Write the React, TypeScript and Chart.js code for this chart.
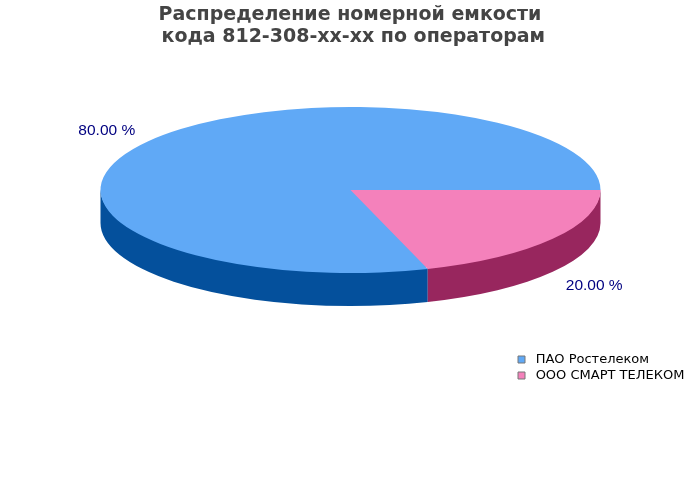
import React, { useEffect, useRef } from 'react';
import { Chart, registerables } from 'chart.js';

Chart.register(...registerables);

const operators = ['ПАО Ростелеком', 'ООО СМАРТ ТЕЛЕКОМ'];
const shares = [80, 20];
const topColors = ['#60A9F6', '#F481BB'];
const wallColors = ['#04509C', '#98265E'];
const titleLines = [
    'Распределение номерной емкости',
    '\u00A0кода 812-308-хх-хх по операторам',
];

// геометрия "3D" эллипса на канвасе
const CENTER_X = 350.5;
const CENTER_Y = 190;
const RADIUS_X = 250;
const RADIUS_Y = 83;
const DEPTH = 33;
const LABEL_FACTOR_X = 1.205;
const LABEL_FACTOR_Y = 1.22;
const LABEL_DROP = 36;

const pie3d = {
    id: 'pie3d',
    beforeDatasetsDraw(chart: any) {
        const { ctx } = chart;
        const arcs = chart.getDatasetMeta(0).data;
        const first = arcs[0];
        const sx = RADIUS_X / first.outerRadius;
        const sy = RADIUS_Y / first.outerRadius;

        // боковая стенка: только передняя половина каждого сектора
        arcs.forEach((arc: any, i: number) => {
            const full = Math.PI * 2;
            const shift = arc.startAngle >= full ? full : 0;
            const from = Math.max(arc.startAngle - shift, 0);
            const to = Math.min(arc.endAngle - shift, Math.PI);
            if (to <= from) return;
            ctx.beginPath();
            ctx.ellipse(CENTER_X, CENTER_Y - 1, RADIUS_X, RADIUS_Y, 0, from, to);
            ctx.ellipse(CENTER_X, CENTER_Y + DEPTH, RADIUS_X, RADIUS_Y, 0, to, from, true);
            ctx.closePath();
            ctx.fillStyle = wallColors[i];
            ctx.fill();
        });

        // подложка, чтобы не было светлого шва между секторами
        ctx.beginPath();
        ctx.ellipse(CENTER_X, CENTER_Y, RADIUS_X - 2, RADIUS_Y - 2, 0, 0, Math.PI * 2);
        ctx.fillStyle = topColors[0];
        ctx.fill();

        // верх рисует сама библиотека, в сжатых координатах
        ctx.save();
        ctx.translate(CENTER_X, CENTER_Y);
        ctx.scale(sx, sy);
        ctx.translate(-first.x, -first.y);
    },
    afterDatasetsDraw(chart: any) {
        const { ctx } = chart;
        ctx.restore();

        const arcs = chart.getDatasetMeta(0).data;
        ctx.save();
        ctx.font = '15.5px "Liberation Sans"';
        ctx.fillStyle = '#000080';
        ctx.textAlign = 'center';
        ctx.textBaseline = 'middle';
        arcs.forEach((arc: any, i: number) => {
            const mid = (arc.startAngle + arc.endAngle) / 2;
            const sin = Math.sin(mid);
            const x = CENTER_X + Math.cos(mid) * RADIUS_X * LABEL_FACTOR_X;
            const y = CENTER_Y + sin * RADIUS_Y * LABEL_FACTOR_Y + (sin > 0 ? LABEL_DROP : 0);
            ctx.fillText(`${shares[i].toFixed(2)} %`, x, y);
        });
        ctx.restore();
    },
};

const legendPlacement = {
    id: 'legendPlacement',
    afterLayout(chart: any) {
        const legend = chart.legend;
        const dx = 515 - legend.left;
        const dy = 350 - legend.top;
        legend.left += dx;
        legend.right += dx;
        legend.top += dy;
        legend.bottom += dy;
    },
};

const App: React.FC = () => {
    const chartRef = useRef<HTMLCanvasElement | null>(null);

    useEffect(() => {
        document.body.style.margin = '0';
        if (!chartRef.current) return;
        const chart = new Chart(chartRef.current, {
            type: 'pie',
            data: {
                labels: operators,
                datasets: [{
                    data: shares,
                    backgroundColor: topColors,
                    borderWidth: 0,
                    clip: false,
                } as any],
            },
            options: {
                responsive: false,
                animation: false,
                rotation: 162,
                events: [],
                plugins: {
                    tooltip: { enabled: false },
                    title: {
                        display: true,
                        text: titleLines,
                        color: '#444444',
                        font: { family: '"DejaVu Sans"', size: 19, weight: 'bold', lineHeight: 1.16 },
                        padding: { top: 4, bottom: 10 },
                    },
                    legend: {
                        position: 'right',
                        align: 'start',
                        labels: {
                            boxWidth: 7,
                            boxHeight: 7,
                            padding: 3,
                            color: '#000000',
                            font: { family: '"DejaVu Sans"', size: 13 },
                            generateLabels: () => operators.map((name, i) => ({
                                text: `\u00A0${name}`,
                                fillStyle: topColors[i],
                                strokeStyle: '#777777',
                                lineWidth: 1,
                                index: i,
                            })),
                        },
                    },
                },
            },
            plugins: [pie3d, legendPlacement],
        });
        return () => chart.destroy();
    }, []);

    return (
        <div style={{ width: 700, height: 500 }}>
            <canvas ref={chartRef} width={700} height={500}></canvas>
        </div>
    );
};

export default App;
